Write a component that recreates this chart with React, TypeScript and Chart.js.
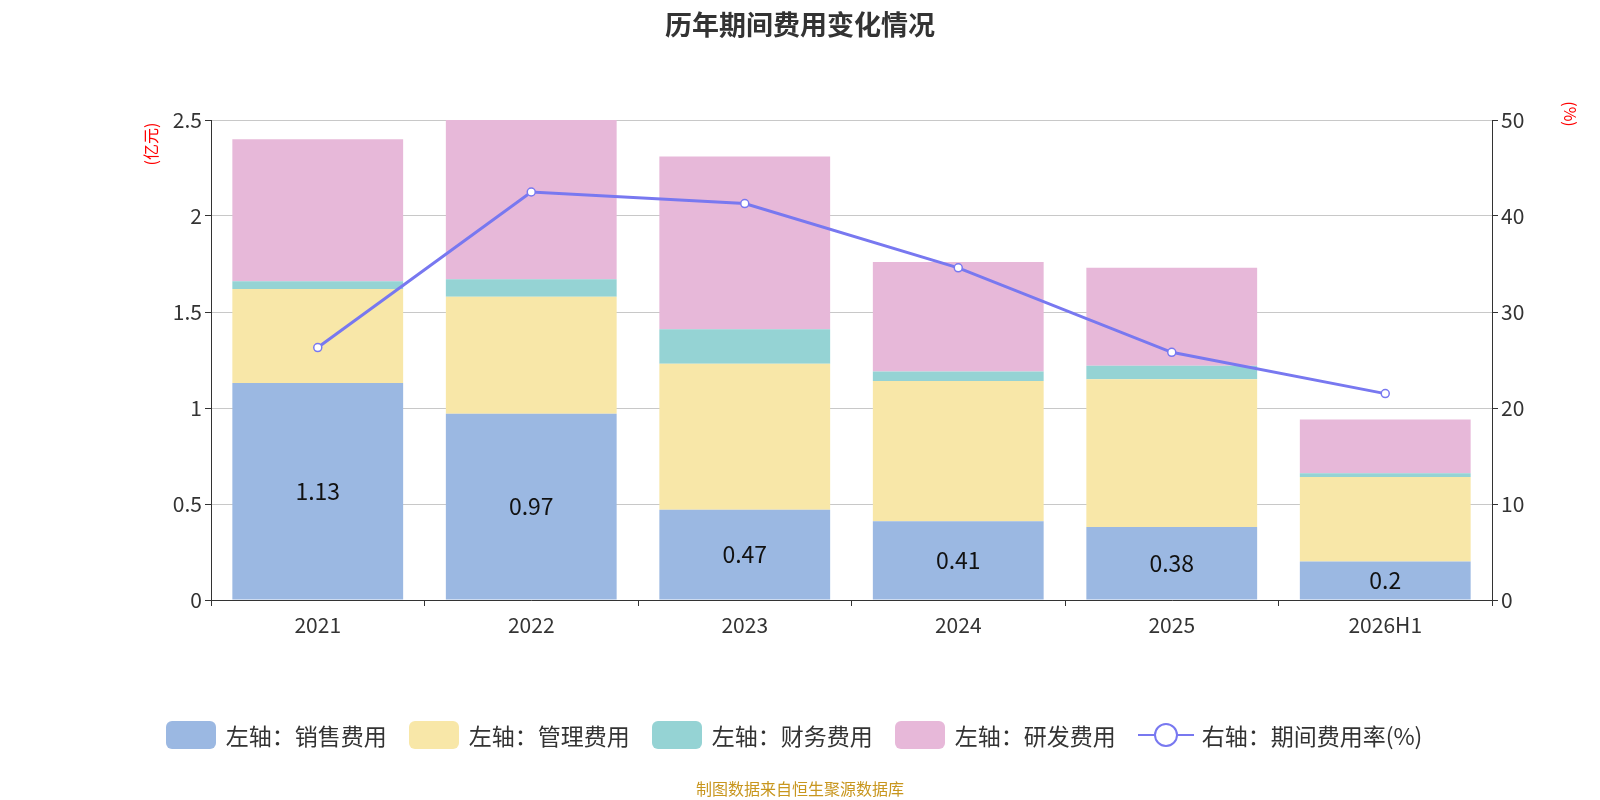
import React, { useEffect, useRef } from "react";
import { Chart, registerables } from "chart.js";
Chart.register(...registerables);

const categories = ["2021", "2022", "2023", "2024", "2025", "2026H1"];
const sales = [1.13, 0.97, 0.47, 0.41, 0.38, 0.2];
const admin = [0.49, 0.61, 0.76, 0.73, 0.77, 0.44];
const finance = [0.04, 0.09, 0.18, 0.05, 0.07, 0.02];
const rnd = [0.74, 0.83, 0.9, 0.57, 0.51, 0.28];
const rate = [26.3, 42.5, 41.3, 34.6, 25.8, 21.5];
const leftTicks = ["0", "0.5", "1", "1.5", "2", "2.5"];

const FONT = "'Noto Sans CJK SC', 'Noto Sans', sans-serif";
const C_SALES = "#9bb8e2";
const C_ADMIN = "#f8e7a8";
const C_FIN = "#95d3d4";
const C_RND = "#e7b8d9";
const C_LINE = "#7878f0";

const labelPlugin = {
  id: "salesLabels",
  afterDatasetsDraw(chart: any) {
    const meta = chart.getDatasetMeta(0);
    const ctx = chart.ctx;
    ctx.save();
    ctx.font = `23px ${FONT}`;
    ctx.fillStyle = "#111";
    ctx.textAlign = "center";
    ctx.textBaseline = "middle";
    meta.data.forEach((el: any, i: number) => {
      const y = (el.y + el.base) / 2;
      ctx.fillText(String(sales[i]), el.x, y);
    });
    ctx.restore();
  },
};

export default function App() {
  const ref = useRef<HTMLCanvasElement>(null);
  useEffect(() => {
    const fix = (w: number) => (s: any) => { s.width = w; };
    const chart = new Chart(ref.current!, {
      type: "bar",
      data: {
        labels: categories,
        datasets: [
          { label: "销售费用", data: sales, backgroundColor: C_SALES, stack: "s", yAxisID: "y", order: 2 },
          { label: "管理费用", data: admin, backgroundColor: C_ADMIN, stack: "s", yAxisID: "y", order: 2 },
          { label: "财务费用", data: finance, backgroundColor: C_FIN, stack: "s", yAxisID: "y", order: 2 },
          { label: "研发费用", data: rnd, backgroundColor: C_RND, stack: "s", yAxisID: "y", order: 2 },
          {
            type: "line", label: "期间费用率", data: rate, yAxisID: "y1", order: 1,
            borderColor: C_LINE, borderWidth: 3, pointBackgroundColor: "#fff",
            pointBorderColor: C_LINE, pointBorderWidth: 1.5, pointRadius: 4, tension: 0,
          } as any,
        ],
      },
      options: {
        responsive: false,
        animation: false,
        layout: { padding: { left: 151, right: 48, top: 120, bottom: 160 } },
        datasets: { bar: { barPercentage: 0.8, categoryPercentage: 1 } },
        plugins: { legend: { display: false }, tooltip: { enabled: false } },
        scales: {
          x: {
            stacked: true,
            offset: true,
            afterFit: (s: any) => { s.height = 40; },
            grid: { display: true, drawOnChartArea: false, offset: true, tickLength: 6, color: "#333" },
            border: { color: "#333" },
            ticks: { font: { size: 21, family: FONT }, color: "#333", padding: 6 },
          },
          y: {
            stacked: true, min: 0, max: 2.5,
            afterFit: fix(60),
            grid: { color: "#c8c8c8", tickLength: 6, drawTicks: true, tickColor: "#333" } as any,
            border: { color: "#333" },
            ticks: {
              stepSize: 0.5, font: { size: 21, family: FONT }, color: "#333",
              callback: (_v: any, i: number) => leftTicks[i],
            },
          },
          y1: {
            position: "right", min: 0, max: 50,
            afterFit: fix(60),
            grid: { drawOnChartArea: false, tickLength: 6, color: "#333" },
            border: { color: "#333" },
            ticks: { stepSize: 10, font: { size: 21, family: FONT }, color: "#333" },
          },
        },
      },
      plugins: [labelPlugin],
    });
    return () => chart.destroy();
  }, []);

  const legend = [
    { c: C_SALES, t: "左轴：销售费用" },
    { c: C_ADMIN, t: "左轴：管理费用" },
    { c: C_FIN, t: "左轴：财务费用" },
    { c: C_RND, t: "左轴：研发费用" },
  ];
  const abs = (s: React.CSSProperties): React.CSSProperties => ({ position: "absolute", ...s });
  return (
    <div style={{ position: "absolute", left: 0, top: 0, width: 1600, height: 800, background: "#fff", fontFamily: FONT, overflow: "hidden" }}>
      <canvas ref={ref} width={1600} height={800} style={{ position: "absolute", left: 0, top: 0 }} />
      <div style={abs({ left: 0, width: 1600, top: 4, textAlign: "center", fontSize: 27, fontWeight: "bold", color: "#333" })}>历年期间费用变化情况</div>
      <div style={abs({ left: 150 - 30, top: 144 - 10, width: 60, height: 20, lineHeight: "20px", textAlign: "center", color: "red", fontSize: 16, transform: "rotate(-90deg)" })}>(亿元)</div>
      <div style={abs({ left: 1571 - 20, top: 114 - 10, width: 40, height: 20, lineHeight: "20px", textAlign: "center", color: "red", fontSize: 16, transform: "rotate(90deg)" })}>(%)</div>
      <div style={abs({ left: 0, width: 1588, top: 718, display: "flex", justifyContent: "center", alignItems: "center", gap: 22, fontSize: 23, color: "#333" })}>
        {legend.map((l) => (
          <div key={l.t} style={{ display: "flex", alignItems: "center", gap: 10 }}>
            <div style={{ width: 50, height: 28, borderRadius: 6, background: l.c }} />
            <span>{l.t}</span>
          </div>
        ))}
        <div style={{ display: "flex", alignItems: "center", gap: 8 }}>
          <svg width="56" height="30"><line x1="0" y1="15" x2="56" y2="15" stroke={C_LINE} strokeWidth="2" /><circle cx="28" cy="15" r="11" fill="#fff" stroke={C_LINE} strokeWidth="2" /></svg>
          <span>右轴：期间费用率(%)</span>
        </div>
      </div>
      <div style={abs({ left: 0, width: 1600, top: 776, textAlign: "center", fontSize: 16, color: "#c8961e" })}>制图数据来自恒生聚源数据库</div>
    </div>
  );
}
